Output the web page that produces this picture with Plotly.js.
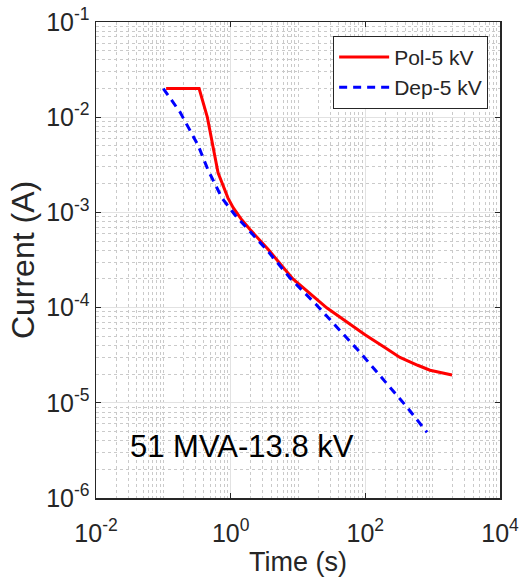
<!DOCTYPE html>
<html>
<head>
<meta charset="utf-8">
<script src="https://cdn.plot.ly/plotly-3.0.1.min.js"></script>
<style>html,body{margin:0;padding:0;background:#fff}#chart{width:520px;height:578px}</style>
</head>
<body>
<div id="chart"></div>
<script>
// Pol-5 kV (polarization current)
const polTime = [0.11, 0.34, 0.45, 0.65, 0.91, 1.09, 1.47, 1.94, 3.59, 8.4, 27, 50, 99, 200, 327, 600, 914, 1940];
const polCurrent = [0.02, 0.02, 0.01, 2.6e-3, 1.42e-3, 1.12e-3, 8.3e-4, 6.6e-4, 4.1e-4, 2.0e-4, 9.9e-5, 7.3e-5, 5.2e-5, 3.77e-5, 3.0e-5, 2.48e-5, 2.2e-5, 1.96e-5];
// Dep-5 kV (depolarization current)
const depTime = [0.1, 0.177, 0.327, 0.46, 0.74, 1.16, 3.59, 7.6, 19, 83, 416, 824];
const depCurrent = [0.02, 0.0113, 5.1e-3, 2.8e-3, 1.42e-3, 9.4e-4, 3.9e-4, 2.05e-4, 1.06e-4, 3.4e-5, 9.0e-6, 4.9e-6];

const seriesNames = ['Pol-5 kV', 'Dep-5 kV'];
const xTickVals = [0.01, 1, 100, 10000];
const xTickText = ['10<sup>-2</sup>', '10<sup>0</sup>', '10<sup>2</sup>', '10<sup>4</sup>'];
const yTickVals = [1e-6, 1e-5, 1e-4, 1e-3, 1e-2, 1e-1];
const yTickText = ['10<sup>-6</sup>', '10<sup>-5</sup>', '10<sup>-4</sup>', '10<sup>-3</sup>', '10<sup>-2</sup>', '10<sup>-1</sup>'];
const annotationText = '51 MVA-13.8 kV';

const FONT = 'Liberation Sans, Arial, Helvetica, sans-serif';
const AX = '#262626';

const traces = [
  {x: polTime, y: polCurrent, name: seriesNames[0], mode: 'lines', type: 'scatter',
   line: {color: '#ff0000', width: 3}},
  {x: depTime, y: depCurrent, name: seriesNames[1], mode: 'lines', type: 'scatter',
   line: {color: '#0000ff', width: 3, dash: '8px,6px'}}
];

function axisBase() {
  return {
    type: 'log',
    showline: true, linecolor: AX, linewidth: 1.5, mirror: 'ticks',
    ticks: 'inside', ticklen: 5, tickcolor: AX, tickwidth: 1,
    showgrid: true, gridcolor: '#e2e2e2', gridwidth: 1,
    zeroline: false,
    tickfont: {family: FONT, size: 25, color: AX},
    minor: {dtick: 'D1', showgrid: true, gridcolor: '#cacaca', griddash: 'dot', gridwidth: 1, ticks: ''}
  };
}

const xaxis = Object.assign(axisBase(), {
  range: [-2, 4], tickmode: 'array', tickvals: xTickVals, ticktext: xTickText,
  ticklabelstandoff: 12,
  title: {text: 'Time (s)', font: {family: FONT, size: 27, color: AX}, standoff: 6}
});
const yaxis = Object.assign(axisBase(), {
  range: [-6, -1], tickmode: 'array', tickvals: yTickVals, ticktext: yTickText,
  title: {text: 'Current (A)', font: {family: FONT, size: 32, color: AX}, standoff: 2}
});

const layout = {
  width: 520, height: 578,
  margin: {l: 96, r: 20, t: 22, b: 80},
  paper_bgcolor: '#ffffff', plot_bgcolor: '#ffffff',
  font: {family: FONT, color: AX},
  xaxis: xaxis, yaxis: yaxis,
  showlegend: true,
  legend: {
    x: 0.587, y: 0.971, xanchor: 'left', yanchor: 'top',
    bgcolor: '#ffffff', bordercolor: AX, borderwidth: 1,
    font: {family: FONT, size: 21, color: AX},
    itemwidth: 50, tracegroupgap: 0
  },
  annotations: [{
    xref: 'paper', yref: 'paper', x: 0.079, y: 0.109, xanchor: 'left', yanchor: 'middle',
    text: annotationText, showarrow: false,
    font: {family: FONT, size: 31, color: '#000000'}
  }]
};

Plotly.newPlot('chart', traces, layout, {displayModeBar: false, staticPlot: true});
</script>
</body>
</html>
